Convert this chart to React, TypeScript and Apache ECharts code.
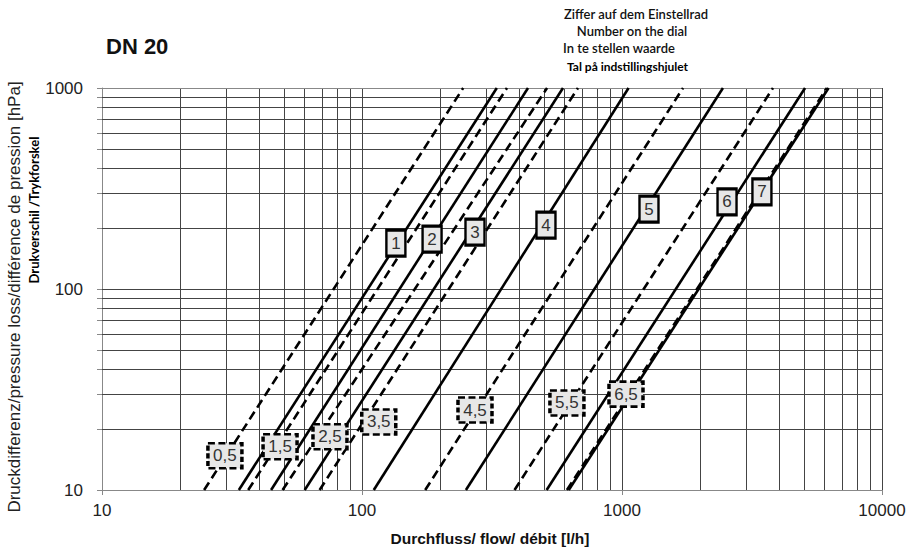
import React, { useEffect, useRef } from "react";
import * as echarts from "echarts";

// Settings of the dial (labels as printed)
const settings = ["0,5", "1", "1,5", "2", "2,5", "3", "3,5", "4", "4,5", "5", "5,5", "6", "6,5", "7"];
// Flow [l/h] read at 10 hPa and at 1000 hPa for each setting
const flowAt10 = [24.7, 33.6, 36.5, 44.7, 49.5, 60.2, 68.7, 111, 175, 251, 386, 513, 614, 624];
const flowAt1000 = [245, 330, 361, 435, 515, 593, 677, 1060, 1717, 2445, 3808, 5059, 6140, 6230];
const pressureEnds = [10, 1000];
// Label box positions (flow, pressure)
const labelFlow = [29.7, 135, 48.4, 186, 75.3, 272, 116, 510, 272, 1270, 614, 2535, 1036, 3453];
const labelPressure = [14.8, 169, 16.4, 177, 18.4, 192, 21.8, 208, 25.0, 250, 27.1, 271, 30.0, 304];

// Grid values
const xGrid = [10, 20, 30, 40, 50, 60, 70, 80, 90, 100, 200, 300, 400, 500, 600, 700, 800, 900, 1000, 2000, 3000, 4000, 5000, 6000, 7000, 8000, 9000, 10000];
const yGrid = [10, 20, 30, 40, 50, 60, 70, 80, 90, 100, 200, 300, 400, 500, 600, 700, 800, 900, 1000];
const xTickLabels = [10, 100, 1000, 10000];
const yTickLabels = [10, 100, 1000];

const FONT = "'Liberation Sans', Arial, sans-serif";
const CAL = "Lato, 'Open Sans', sans-serif";

export default function App() {
  const ref = useRef<HTMLDivElement>(null);
  useEffect(() => {
    if (!ref.current) return;
    const chart = echarts.init(ref.current, undefined, { renderer: "svg" });
    const isHalf = (s: string) => s.indexOf(",") >= 0;

    const lineSeries = settings.map((s, i) => ({
      type: "line",
      name: s,
      data: [
        [flowAt10[i], pressureEnds[0]],
        [flowAt1000[i], pressureEnds[1]],
      ],
      symbol: "none",
      silent: true,
      z: 3,
      lineStyle: { color: "#000", width: 2.6, type: isHalf(s) ? [9, 5] : "solid" },
    }));

    const solidLabels: any[] = [];
    const dashedLabels: any[] = [];
    settings.forEach((s, i) => {
      const item = { name: s, value: [labelFlow[i], labelPressure[i]] };
      (isHalf(s) ? dashedLabels : solidLabels).push(item);
    });

    const labelCommon = {
      show: true,
      position: "inside",
      formatter: "{b}",
      color: "#333",
      fontSize: 17,
      fontFamily: FONT,
    };

    const option: any = {
      animation: false,
      backgroundColor: "#fff",
      grid: { left: 102, right: 32, top: 88, bottom: 58, containLabel: false },
      xAxis: {
        type: "log",
        logBase: 10,
        min: 10,
        max: 10000,
        axisLine: { show: true, lineStyle: { color: "#888", width: 1 } },
        axisTick: { show: true, length: 5, lineStyle: { color: "#888" } },
        splitLine: { show: false },
        axisLabel: {
          color: "#222",
          fontSize: 17,
          fontFamily: FONT,
          margin: 12,
          formatter: (v: number) => (xTickLabels.indexOf(Math.round(v)) >= 0 ? String(Math.round(v)) : ""),
        },
      },
      yAxis: {
        type: "log",
        logBase: 10,
        min: 10,
        max: 1000,
        axisLine: { show: true, lineStyle: { color: "#888", width: 1 } },
        axisTick: { show: false },
        splitLine: { show: false },
        axisLabel: {
          color: "#222",
          fontSize: 17,
          fontFamily: FONT,
          margin: 19,
          formatter: (v: number) => (yTickLabels.indexOf(Math.round(v)) >= 0 ? String(Math.round(v)) : ""),
        },
      },
      series: [
        {
          type: "custom",
          silent: true,
          z: 1,
          data: xGrid.map((v) => [v, 10]),
          renderItem: (params: any, api: any) => {
            const v = api.value(0);
            const p1 = api.coord([v, 10]);
            const p2 = api.coord([v, 1000]);
            return {
              type: "line",
              shape: { x1: Math.round(p1[0]) + 0.5, y1: p1[1], x2: Math.round(p2[0]) + 0.5, y2: p2[1] },
              style: { stroke: v === 10 ? "#888" : "#444", lineWidth: 1 },
            };
          },
        },
        {
          type: "custom",
          silent: true,
          z: 1,
          data: yGrid.map((v) => [10, v]),
          renderItem: (params: any, api: any) => {
            const v = api.value(1);
            const p1 = api.coord([10, v]);
            const p2 = api.coord([10000, v]);
            const y = Math.round(p1[1]) + 0.5;
            return {
              type: "group",
              children: [
                {
                  type: "line",
                  shape: { x1: p1[0], y1: y, x2: p2[0], y2: y },
                  style: { stroke: v === 10 ? "#888" : v === 1000 ? "#888" : "#444", lineWidth: 1 },
                },
                {
                  type: "line",
                  shape: { x1: p1[0] - 5, y1: y, x2: p1[0], y2: y },
                  style: { stroke: "#888", lineWidth: 1 },
                },
              ],
            };
          },
        },
        ...lineSeries,
        {
          type: "scatter",
          z: 5,
          silent: true,
          symbol: "rect",
          symbolSize: [19, 26],
          data: solidLabels,
          itemStyle: { color: "#e7e7e7", borderColor: "#000", borderWidth: 2.8, opacity: 1 },
          label: labelCommon,
        },
        {
          type: "scatter",
          z: 5,
          silent: true,
          symbol: "rect",
          symbolSize: [34, 25],
          data: dashedLabels,
          itemStyle: { color: "#e7e7e7", borderColor: "#000", borderWidth: 3, borderType: [6, 3], opacity: 1 },
          label: labelCommon,
        },
      ],
      graphic: [
        {
          type: "text",
          left: 106,
          top: 35,
          style: { text: "DN 20", fontSize: 22, fontWeight: "bold", fontFamily: FONT, fill: "#111" },
        },
        {
          type: "text",
          x: 636,
          y: 14,
          style: { text: "Ziffer auf dem Einstellrad", fontSize: 13, fontWeight: 600, fontFamily: CAL, fill: "#111", textAlign: "center", textVerticalAlign: "middle" },
        },
        {
          type: "text",
          x: 632,
          y: 31,
          style: { text: "Number on the dial", fontSize: 13, fontWeight: 600, fontFamily: CAL, fill: "#111", textAlign: "center", textVerticalAlign: "middle" },
        },
        {
          type: "text",
          x: 563,
          y: 48,
          style: { text: "In te stellen waarde", fontSize: 13, fontWeight: 600, fontFamily: CAL, fill: "#111", textAlign: "left", textVerticalAlign: "middle" },
        },
        {
          type: "text",
          x: 567,
          y: 66,
          style: { text: "Tal på indstillingshjulet", fontSize: 12, fontWeight: "bold", fontFamily: CAL, fill: "#000", textAlign: "left", textVerticalAlign: "middle" },
        },
        {
          type: "text",
          x: 14,
          y: 297,
          rotation: Math.PI / 2,
          style: { text: "Druckdifferenz/pressure loss/différence de pression [hPa]", fontSize: 17, fontFamily: FONT, fill: "#222", textAlign: "center", textVerticalAlign: "middle" },
        },
        {
          type: "text",
          x: 34,
          y: 210,
          rotation: Math.PI / 2,
          style: { text: "Drukverschil /Trykforskel", fontSize: 13, fontWeight: "bold", fontFamily: CAL, fill: "#000", textAlign: "center", textVerticalAlign: "middle" },
        },
        {
          type: "text",
          x: 490,
          y: 538,
          style: { text: "Durchfluss/ flow/ débit [l/h]", fontSize: 15.5, fontWeight: "bold", fontFamily: FONT, fill: "#111", textAlign: "center", textVerticalAlign: "middle" },
        },
      ],
    };
    chart.setOption(option);
    return () => chart.dispose();
  }, []);
  return (
    <div
      ref={ref}
      style={{ position: "fixed", left: 0, top: 0, width: 914, height: 548, background: "#fff" }}
    />
  );
}
